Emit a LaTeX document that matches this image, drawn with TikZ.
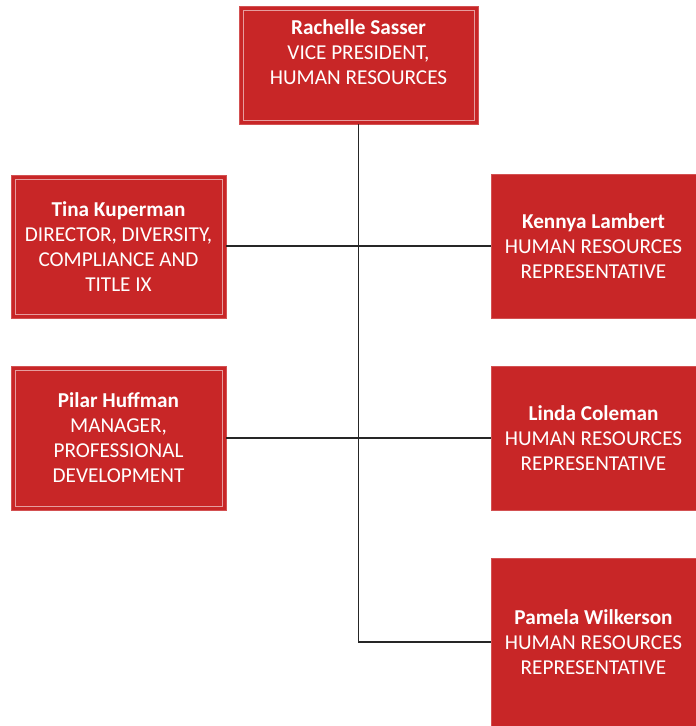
\documentclass[tikz,border=0pt]{standalone}
\usepackage{fontspec}
\setmainfont{Carlito}
\usepackage{xcolor}
\usepackage{tikz}
\usetikzlibrary{positioning}
\definecolor{hrred}{RGB}{200,38,39}

\begin{document}
\begin{tikzpicture}[x=1pt,y=-1pt]
    \tikzset{post/.style = {shape=rectangle,fill=hrred,draw=hrred!80!white,inner sep=0pt,
        text=white,align=center,font=\fontsize{21.2}{25}\selectfont}}
    \tikzset{framed/.style = {post,path picture={\draw[white!55!hrred,line width=0.8pt]
        ([shift={(4pt,-4pt)}]path picture bounding box.north west) rectangle
        ([shift={(-4pt,4pt)}]path picture bounding box.south east);}}}
    \tikzset{link/.style = {draw=black!85,line width=1.5pt}}
    \useasboundingbox (0,0) rectangle (696,726);
    % posts
    \node[framed,minimum width=239pt,minimum height=118pt] (vp) at (358.5,65)
        {\textbf{Rachelle Sasser}\\VICE PRESIDENT,\\HUMAN RESOURCES\\\mbox{}};
    \node[framed,minimum width=215pt,minimum height=143pt] (tk) at (118.5,246.5)
        {\textbf{Tina Kuperman}\\DIRECTOR, DIVERSITY,\\COMPLIANCE AND\\TITLE IX};
    \node[framed,minimum width=215pt,minimum height=144pt] (ph) at (118.5,438)
        {\textbf{Pilar Huffman}\\MANAGER,\\PROFESSIONAL\\DEVELOPMENT};
    \node[post,minimum width=205pt,minimum height=144pt] (kl) at (593.5,246)
        {\textbf{Kennya Lambert}\\HUMAN RESOURCES\\REPRESENTATIVE};
    \node[post,minimum width=205pt,minimum height=144pt] (lc) at (593.5,438)
        {\textbf{Linda Coleman}\\HUMAN RESOURCES\\REPRESENTATIVE};
    \node[post,minimum width=205pt,minimum height=168pt] (pw) at (593.5,642)
        {\textbf{Pamela Wilkerson}\\HUMAN RESOURCES\\REPRESENTATIVE};
    % links
    \draw[link] (vp.south) -- (vp.south |- pw.west) -- (pw.west);
    \draw[link] (tk.east |- kl.west) -- (kl.west);
    \draw[link] (ph.east) -- (lc.west);
\end{tikzpicture}
\end{document}
